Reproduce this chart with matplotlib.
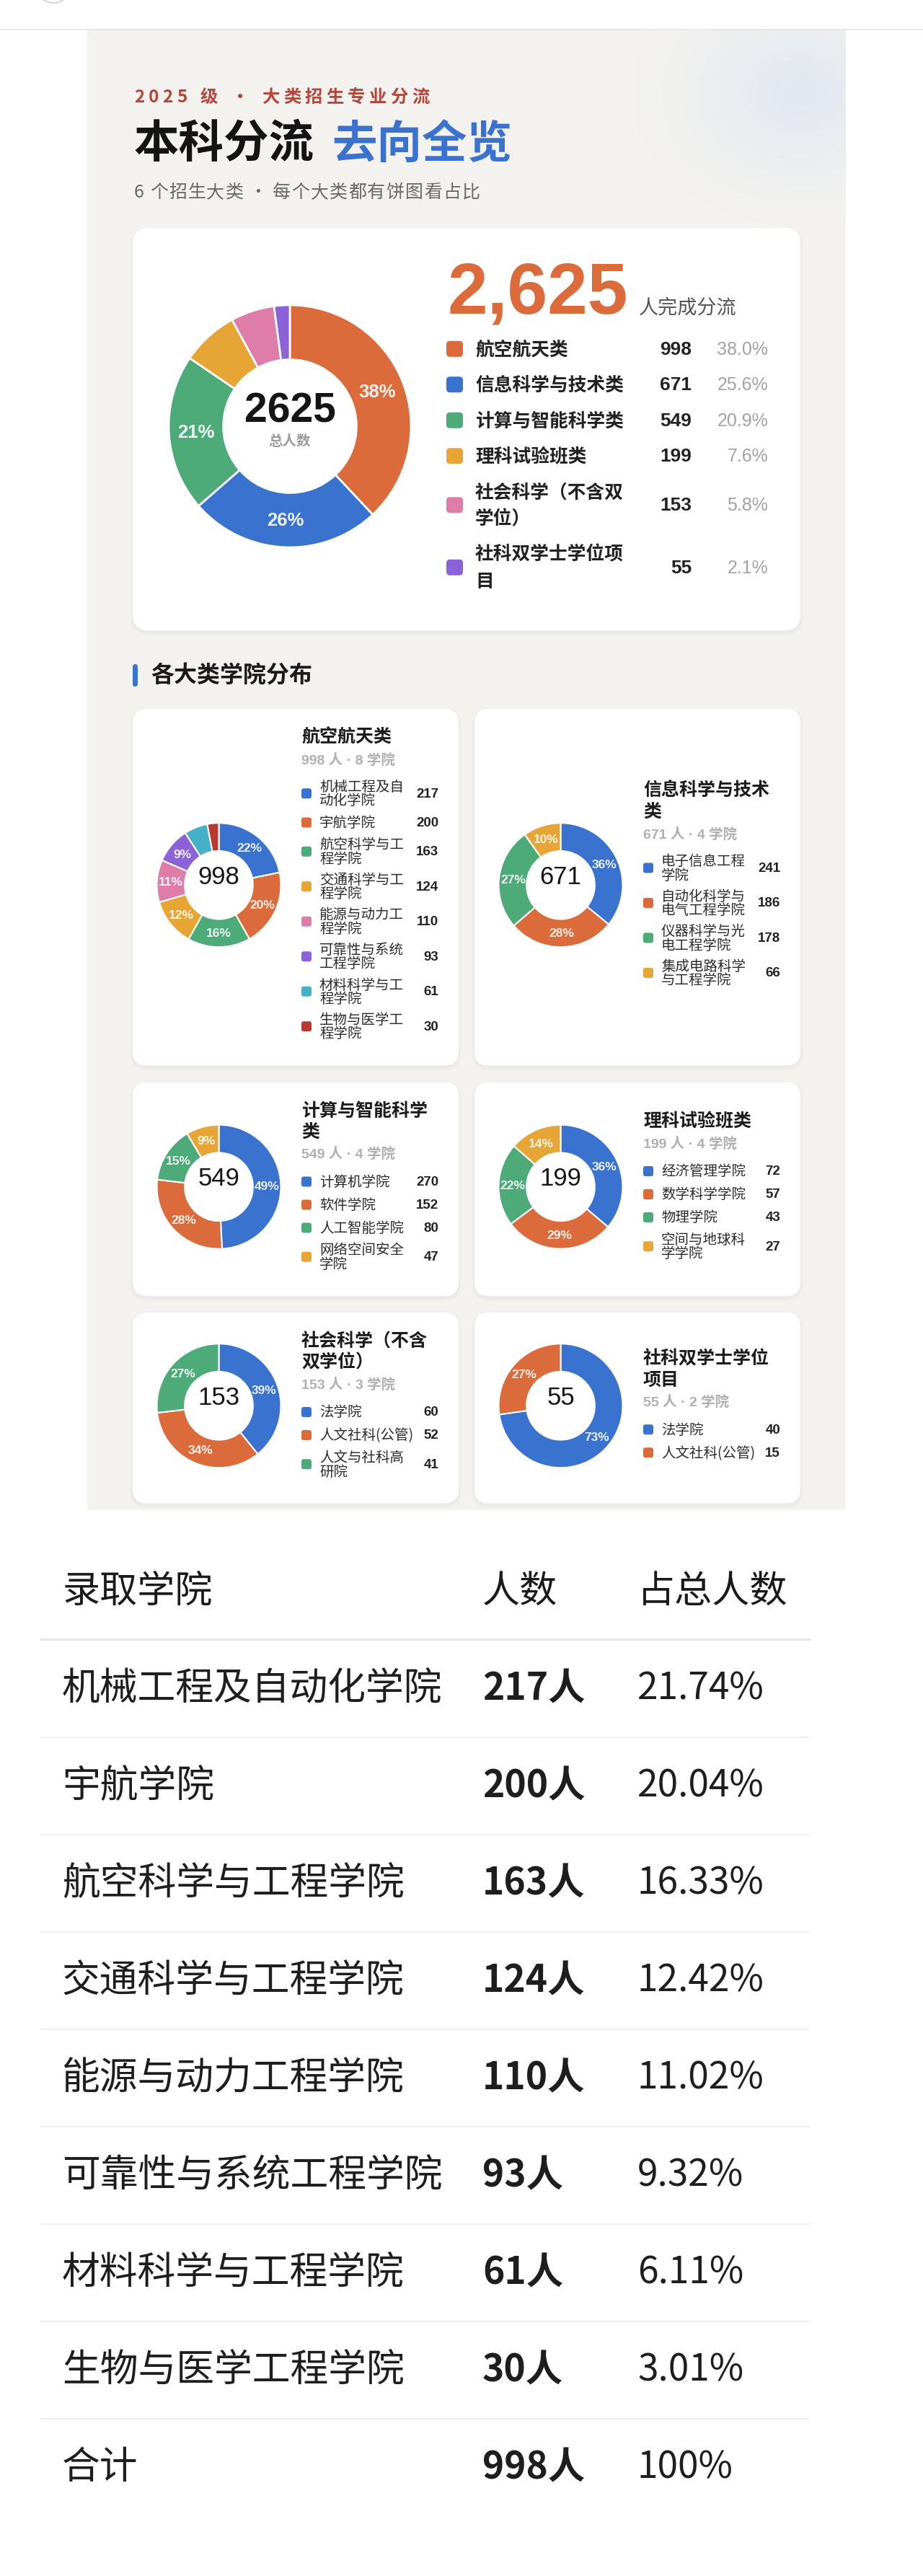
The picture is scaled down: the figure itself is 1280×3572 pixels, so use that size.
import numpy as np
import matplotlib
matplotlib.use('Agg')
import matplotlib.pyplot as plt
from matplotlib.patches import FancyBboxPatch, Rectangle, Circle
from matplotlib.lines import Line2D

W, H, DPI = 1280, 3573, 100
CJK = ['Noto Sans CJK SC', 'DejaVu Sans']
NUM = ['Liberation Sans', 'Noto Sans CJK SC', 'DejaVu Sans']
plt.rcParams['font.family'] = CJK

# ---------------- data ----------------
header_kicker = '2025 级 · 大类招生专业分流'
title_dark = '本科分流'
title_blue = '去向全览'
subtitle = '6 个招生大类 · 每个大类都有饼图看占比'
section_title = '各大类学院分布'
total_caption = '总人数'
total_suffix = '人完成分流'

categories = ['航空航天类', '信息科学与技术类', '计算与智能科学类', '理科试验班类',
              '社会科学（不含双学位）', '社科双学士学位项目']
category_counts = [998, 671, 549, 199, 153, 55]

aero_colleges = ['机械工程及自动化学院', '宇航学院', '航空科学与工程学院', '交通科学与工程学院',
                 '能源与动力工程学院', '可靠性与系统工程学院', '材料科学与工程学院', '生物与医学工程学院']
aero_counts = [217, 200, 163, 124, 110, 93, 61, 30]
info_colleges = ['电子信息工程学院', '自动化科学与电气工程学院', '仪器科学与光电工程学院', '集成电路科学与工程学院']
info_counts = [241, 186, 178, 66]
comp_colleges = ['计算机学院', '软件学院', '人工智能学院', '网络空间安全学院']
comp_counts = [270, 152, 80, 47]
sci_colleges = ['经济管理学院', '数学科学学院', '物理学院', '空间与地球科学学院']
sci_counts = [72, 57, 43, 27]
soc_colleges = ['法学院', '人文社科(公管)', '人文与社科高研院']
soc_counts = [60, 52, 41]
dual_colleges = ['法学院', '人文社科(公管)']
dual_counts = [40, 15]

table_headers = ['录取学院', '人数', '占总人数']
table_total_label = '合计'

# ---------------- style ----------------
main_colors = ['#DC6B3B', '#3A72D0', '#4DAA79', '#E6A534', '#DE7DAA', '#8C62D8']
sub_colors = ['#3A72D0', '#DC6B3B', '#4DAA79', '#E6A534', '#DE7DAA', '#8C62D8', '#45B1C8', '#B83A2E']
ORANGE = '#DC6B3B'
BLUE = '#3A72D0'
PANEL = '#F3F2EF'

fig = plt.figure(figsize=(W / DPI, H / DPI), dpi=DPI)
fig.patch.set_facecolor('white')
bg = fig.add_axes([0, 0, 1, 1])
bg.set_xlim(0, W)
bg.set_ylim(H, 0)
bg.axis('off')
renderer = fig.canvas.get_renderer()


def wrap(s, n):
    lines, cur, w = [], '', 0.0
    for ch in s:
        cw = 0.25 if ord(ch) < 128 else 1.0
        if w + cw > n + 1e-9:
            lines.append(cur)
            cur, w = '', 0.0
        cur += ch
        w += cw
    lines.append(cur)
    return lines


def rbox(x, y, w, h, r, fc, z=2, **kw):
    p = FancyBboxPatch((x, y), w, h, boxstyle=f'round,pad=0,rounding_size={r}',
                       fc=fc, ec='none', zorder=z, **kw)
    bg.add_patch(p)
    return p


def card(x, y, w, h, r):
    for k, a in [(8, 0.012), (4, 0.02)]:
        rbox(x - k / 2, y - k / 2 + 3, w + k, h + k, r + k / 2, '#000000', z=1, alpha=a)
    rbox(x, y, w, h, r, 'white', z=2)


def spaced(x, y, s, spacing, space_em=0.3, **kw):
    for ch in s:
        if ch == ' ':
            x += kw.get('fontsize', 12) * DPI / 72 * space_em + spacing
            continue
        t = bg.text(x, y, ch, **kw)
        bb = t.get_window_extent(renderer)
        x += bb.width + spacing
    return x


def donut(cx, cy, R, values, colors, lw, pct_fs):
    ax = fig.add_axes([(cx - R) / W, 1 - (cy + R) / H, 2 * R / W, 2 * R / H])
    wedges, _, autotexts = ax.pie(
        values, colors=colors[:len(values)], startangle=90, counterclock=False, radius=1.0,
        wedgeprops=dict(width=0.45, edgecolor='white', linewidth=lw),
        autopct=lambda p: f'{p:.0f}%' if p >= 8 else '', pctdistance=0.775,
        textprops=dict(color='white', fontsize=pct_fs, fontweight='bold', family=NUM))
    for t in autotexts:
        t.set_alpha(0.9)
    for w_ in wedges:
        w_.set_clip_on(False)
    ax.set_xlim(-1, 1)
    ax.set_ylim(-1, 1)
    ax.axis('off')
    return ax


# ---------------- page background ----------------
bg.add_line(Line2D([0, W], [42, 42], color='#e3e3e3', lw=1.2, zorder=1))
bg.add_patch(Circle((74, -20), 25, fill=False, ec='#d8d8d8', lw=1.5, zorder=1))
panel = Rectangle((121, 43), 1052, 2052, fc=PANEL, ec='none', zorder=0.5)
bg.add_patch(panel)

gx = np.linspace(880, 1173, 300)
gy = np.linspace(43, 360, 300)
GX, GY = np.meshgrid(gx, gy)
d = np.sqrt(((GX - 1110) / 240) ** 2 + ((GY - 130) / 190) ** 2)
img = np.zeros((300, 300, 4))
img[..., 0], img[..., 1], img[..., 2] = 0.86, 0.895, 0.95
img[..., 3] = np.clip(1 - d, 0, 1) ** 1.4 * 0.75
im = bg.imshow(img, extent=(880, 1173, 360, 43), zorder=0.6, aspect='auto', interpolation='bilinear')
im.set_clip_path(panel)

# ---------------- header ----------------
spaced(186, 135, header_kicker, 5.5, space_em=0.3, fontsize=17.5, fontweight='bold',
       color='#B4473A', va='center')
t = bg.text(186, 200, title_dark, fontsize=45, fontweight='bold', color='#141414', va='center')
xe = t.get_window_extent(renderer).x1
bg.text(xe + 24, 200, title_blue, fontsize=45, fontweight='bold', color=BLUE, va='center')
spaced(186, 267, subtitle, 1.2, space_em=0.22, fontsize=18, color='#6a6a6a', va='center')

# ---------------- main card ----------------
total = sum(category_counts)
card(184, 317, 926, 558, 22)
donut(402, 592, 168, category_counts, main_colors, 2.0, 18.5)
bg.text(402, 570, f'{total}', family=NUM, fontweight='bold', fontsize=41, ha='center',
        va='center', color='#151515', zorder=5)
bg.text(402, 612, total_caption, fontsize=14, fontweight='bold', ha='center', va='center',
        color='#9c9c9c', zorder=5)

t = bg.text(620, 435, f'{total:,}', family=NUM, fontweight='bold', fontsize=72, color=ORANGE,
            ha='left', va='baseline', zorder=5)
xe = t.get_window_extent(renderer).x1
bg.text(xe + 15, 435, total_suffix, fontsize=19.5, color='#555555', ha='left', va='baseline', zorder=5)

y = 460
for i, (name, cnt) in enumerate(zip(categories, category_counts)):
    lines = wrap(name, 8)
    h = 49.5 + 37 * (len(lines) - 1)
    yc = y + h / 2
    rbox(619, yc - 11, 23, 22, 5, main_colors[i], z=3)
    for j, ln in enumerate(lines):
        bg.text(659, yc + (j - (len(lines) - 1) / 2) * 37, ln, fontsize=18.5, fontweight='bold',
                color='#222222', va='center', zorder=5)
    bg.text(959, yc, str(cnt), family=NUM, fontsize=19, fontweight='bold', ha='right',
            va='center', color='#222222', zorder=5)
    bg.text(1065, yc, f'{cnt / total * 100:.1f}%', family=NUM, fontsize=18, ha='right',
            va='center', color='#a3a3a3', zorder=5)
    y += h

# ---------------- section header ----------------
rbox(184, 922, 7, 31, 3.5, BLUE, z=3)
bg.text(209, 937, section_title, fontsize=23, fontweight='bold', color='#1a1a1a', va='center')

# ---------------- sub cards ----------------
groups = [(categories[0], aero_colleges, aero_counts),
          (categories[1], info_colleges, info_counts),
          (categories[2], comp_colleges, comp_counts),
          (categories[3], sci_colleges, sci_counts),
          (categories[4], soc_colleges, soc_counts),
          (categories[5], dual_colleges, dual_counts)]


def row_h(c):
    return 32 + 16.5 * (len(wrap(c, 6.5)) - 1)


def block_height(name, colleges):
    nt = len(wrap(name, 7))
    return 13 + 29 * (nt - 1) + 31 + 23 + sum(row_h(c) for c in colleges)


card_x = [184, 658]
card_w = 452
y = 984
for r in range(3):
    pair = groups[2 * r:2 * r + 2]
    ch = max(block_height(n, c) for n, c, _ in pair) + 56
    for col, (name, colleges, counts) in enumerate(pair):
        x0 = card_x[col]
        card(x0, y, card_w, ch, 20)
        center = y + ch / 2
        dcx, dcy = x0 + 119.5, center - 3
        donut(dcx, dcy, 86, counts, sub_colors, 1.5, 12.5)
        bg.text(dcx, dcy - 12, str(sum(counts)), family=NUM, fontsize=25, ha='center',
                va='center', color='#151515', zorder=5)
        bh = block_height(name, colleges)
        bt = center - bh / 2 - 2
        bx = x0 + 234
        yt = bt + 13
        tl = wrap(name, 7)
        for k, ln in enumerate(tl):
            bg.text(bx, yt + 29 * k, ln, fontsize=18, fontweight='bold', color='#1c1c1c', va='center', zorder=5)
        sub_y = yt + 29 * (len(tl) - 1) + 31
        bg.text(bx, sub_y, f'{sum(counts)} 人 · {len(colleges)} 学院', family=NUM, fontsize=14,
                fontweight='bold', color='#b0b0b0', va='center', zorder=5)
        ry = sub_y + 23
        for k, (c, v) in enumerate(zip(colleges, counts)):
            lines = wrap(c, 6.5)
            hh = row_h(c)
            yc = ry + hh / 2
            rbox(bx, yc - 7, 14, 14, 3, sub_colors[k], z=3)
            for j, ln in enumerate(lines):
                bg.text(x0 + 259, yc + (j - (len(lines) - 1) / 2) * 19.5, ln, fontsize=14,
                        fontweight='medium', color='#2a2a2a', va='center', zorder=5)
            bg.text(x0 + 424, yc, str(v), family=NUM, fontsize=13.5, fontweight='bold',
                    ha='right', va='center', color='#222222', zorder=5)
            ry += hh
    y += ch + 23

# ---------------- table ----------------
xs = [86, 669, 884]
hy = 2207
for k, hd in enumerate(table_headers):
    bg.text(xs[k], hy, hd, fontsize=37.5, fontweight='medium', color='#1a1a1a', va='center')
bg.add_line(Line2D([57, 1122], [2274, 2274], color='#e4e4e4', lw=2.2))
aero_total = sum(aero_counts)
row0, step = 2342, 135
for i, (c, v) in enumerate(zip(aero_colleges, aero_counts)):
    yy = row0 + step * i
    bg.text(xs[0], yy, c, fontsize=38, color='#1e1e1e', va='center')
    bg.text(xs[1], yy, f'{v}人', fontsize=37, fontweight='bold', color='#1e1e1e', va='center')
    bg.text(xs[2], yy, f'{v / aero_total * 100:.2f}%', fontsize=37, color='#1e1e1e', va='center')
    bg.add_line(Line2D([57, 1122], [yy + step / 2, yy + step / 2], color='#f0f0f0', lw=1.5))
yy = row0 + step * len(aero_colleges)
bg.text(xs[0], yy, table_total_label, fontsize=38, color='#1e1e1e', va='center')
bg.text(xs[1], yy, f'{aero_total}人', fontsize=37, fontweight='bold', color='#1e1e1e', va='center')
bg.text(xs[2], yy, f'{aero_total / aero_total * 100:.0f}%', fontsize=37, color='#1e1e1e', va='center')

bg.set_xlim(0, W)
bg.set_ylim(H, 0)
fig.savefig('out.png', dpi=DPI)
